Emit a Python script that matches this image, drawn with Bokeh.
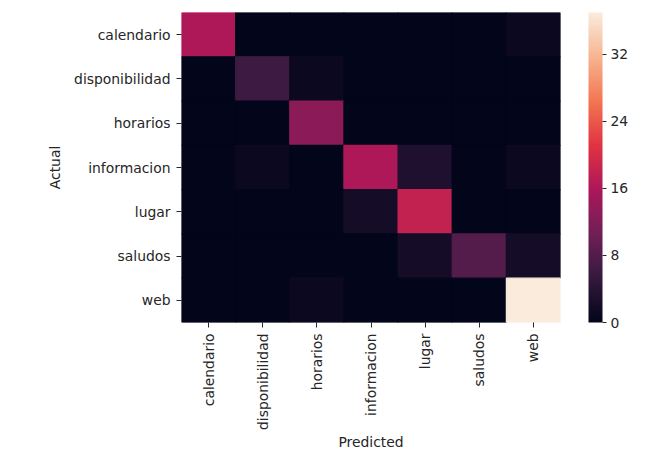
import numpy as np
from bokeh.plotting import figure
from bokeh.models import ColumnDataSource, LinearColorMapper, ColorBar, FixedTicker, FactorRange
from bokeh.embed import file_html
from bokeh.resources import INLINE

labels = ["calendario", "disponibilidad", "horarios", "informacion", "lugar", "saludos", "web"]
row_calendario = [16, 0, 0, 0, 0, 0, 1]
row_disponibilidad = [0, 6, 1, 0, 0, 0, 0]
row_horarios = [0, 0, 13, 0, 0, 0, 0]
row_informacion = [0, 1, 0, 16, 3, 0, 1]
row_lugar = [0, 0, 0, 2, 18, 0, 0]
row_saludos = [0, 0, 0, 0, 2, 8, 2]
row_web = [0, 0, 1, 0, 0, 0, 37]
rows = [row_calendario, row_disponibilidad, row_horarios, row_informacion, row_lugar, row_saludos, row_web]
cbar_ticks = [0, 8, 16, 24, 32]

# rocket colormap (anchor colours, interpolated)
anchors = [(0.0, (3, 5, 26)), (1/7, (53, 25, 62)), (2/7, (112, 31, 87)), (3/7, (173, 23, 89)),
           (4/7, (225, 51, 66)), (5/7, (243, 118, 81)), (6/7, (246, 180, 143)), (1.0, (250, 235, 221))]
pos = np.array([a[0] for a in anchors])
cols = np.array([a[1] for a in anchors], dtype=float)
palette = []
for t in np.linspace(0, 1, 256):
    r, g, b = (np.interp(t, pos, cols[:, k]) for k in range(3))
    palette.append("#%02x%02x%02x" % (int(round(r)), int(round(g)), int(round(b))))

xs, ys, vs = [], [], []
for actual, row in zip(labels, rows):
    for pred, v in zip(labels, row):
        xs.append(pred)
        ys.append(actual)
        vs.append(v)
src = ColumnDataSource(dict(x=xs, y=ys, v=vs))

vmax = max(vs)
mapper = LinearColorMapper(palette=palette, low=0, high=vmax)

TXT = "#262626"
FONT = "DejaVu Sans"
FS = "13.9px"

p = figure(x_range=FactorRange(factors=labels), y_range=FactorRange(factors=list(reversed(labels))),
           frame_width=379, frame_height=310, width=646, height=444,
           min_border_left=181, min_border_top=12, min_border_right=86, min_border_bottom=122,
           output_backend="svg", toolbar_location=None, tools="")
p.rect(x="x", y="y", width=1, height=1, source=src,
       fill_color={"field": "v", "transform": mapper},
       line_color={"field": "v", "transform": mapper}, line_width=1.2)

p.outline_line_color = None
p.grid.grid_line_color = None
for ax in (p.xaxis[0], p.yaxis[0]):
    ax.axis_line_color = None
    ax.major_tick_line_color = TXT
    ax.major_tick_in = 0
    ax.major_tick_out = 5
    ax.minor_tick_line_color = None
    ax.major_label_text_font = FONT
    ax.major_label_text_font_size = FS
    ax.major_label_text_color = TXT
    ax.axis_label_text_font = FONT
    ax.axis_label_text_font_size = FS
    ax.axis_label_text_color = TXT
    ax.axis_label_text_font_style = "normal"

p.xaxis.major_label_orientation = np.pi / 2
p.xaxis.axis_label = "Predicted"
p.yaxis.axis_label = "Actual"
p.xaxis.major_label_standoff = 6
p.yaxis.major_label_standoff = 6
p.xaxis.axis_label_standoff = 1
p.yaxis.axis_label_standoff = 8

cb = ColorBar(color_mapper=mapper, ticker=FixedTicker(ticks=cbar_ticks), width=14, height=310,
              margin=0, padding=0, location=(28, 0),
              major_tick_in=0, major_tick_out=4, major_tick_line_color=TXT,
              minor_tick_line_color=None, bar_line_color=None, border_line_color=None,
              background_fill_color=None,
              major_label_text_font=FONT, major_label_text_font_size=FS,
              major_label_text_color=TXT, label_standoff=4)
p.add_layout(cb, "right")

open("out.html", "w").write(file_html(p, INLINE))
